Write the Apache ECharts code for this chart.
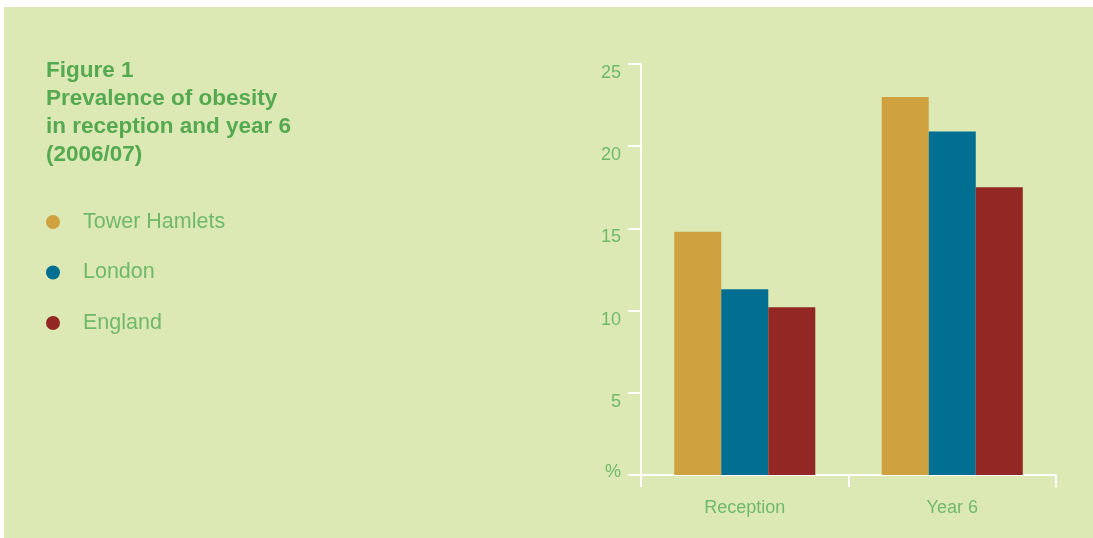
<!DOCTYPE html>
<html>
<head>
<meta charset="utf-8">
<script src="https://cdn.jsdelivr.net/npm/echarts@6/dist/echarts.min.js"></script>
<style>
  html, body { margin: 0; padding: 0; background: #ffffff; }
  #chart { width: 1093px; height: 538px; }
</style>
</head>
<body>
<div id="chart"></div>
<script>
const categories = ['Reception', 'Year 6'];
const seriesNames = ['Tower Hamlets', 'London', 'England'];
const towerHamlets = [14.8, 23.0];
const london = [11.3, 20.9];
const england = [10.2, 17.5];
const yTicks = [0, 5, 10, 15, 20, 25];
const yNumberLabels = [5, 10, 15, 20, 25];
const yUnitLabel = '%';
const titleLines = ['Figure 1', 'Prevalence of obesity', 'in reception and year 6', '(2006/07)'];

const colors = ['#cfa23f', '#006f91', '#922724'];
const bg = '#dde9b4';
const titleGreen = '#55a950';
const labelGreen = '#70b96b';
const font = 'Liberation Sans, Arial, sans-serif';

const chart = echarts.init(document.getElementById('chart'), null, { renderer: 'canvas' });
const values = [towerHamlets, london, england];

const yMin = yTicks[0];
const yMax = yTicks[yTicks.length - 1];

chart.setOption({
  backgroundColor: '#ffffff',
  animation: false,
  color: colors,
  graphic: [{
    type: 'rect',
    z: -10,
    silent: true,
    shape: { x: 4, y: 7, width: 1089, height: 531 },
    style: { fill: bg }
  }],
  title: {
    text: titleLines.join('\n'),
    left: 46,
    top: 57,
    padding: 0,
    textStyle: {
      fontFamily: font,
      fontWeight: 'bold',
      fontSize: 22.5,
      lineHeight: 28,
      color: titleGreen
    }
  },
  legend: {
    orient: 'vertical',
    left: 46,
    top: 211,
    padding: 0,
    icon: 'circle',
    itemWidth: 14,
    itemHeight: 14,
    itemGap: 28.5,
    data: seriesNames,
    textStyle: {
      fontFamily: font,
      fontSize: 21.5,
      lineHeight: 21,
      color: labelGreen,
      padding: [0, 0, 0, 18]
    }
  },
  grid: {
    left: 641,
    right: 37,
    top: 64,
    bottom: 63,
    containLabel: false
  },
  xAxis: {
    type: 'category',
    data: categories,
    axisLine: { show: true, lineStyle: { color: '#ffffff', width: 2 } },
    axisTick: { show: true, length: 12, lineStyle: { color: '#ffffff', width: 2 } },
    axisLabel: {
      margin: 24,
      fontFamily: font,
      fontSize: 18,
      color: labelGreen
    },
    splitLine: { show: false }
  },
  yAxis: [{
    type: 'value',
    min: yMin,
    max: yMax,
    interval: 5,
    axisLine: { show: true, lineStyle: { color: '#ffffff', width: 2 } },
    axisTick: { show: true, length: 13, lineStyle: { color: '#ffffff', width: 2 } },
    axisLabel: {
      customValues: yNumberLabels,
      margin: 20,
      verticalAlign: 'top',
      fontFamily: font,
      fontSize: 18,
      color: labelGreen
    },
    splitLine: { show: false }
  }, {
    type: 'value',
    position: 'left',
    offset: 0,
    min: yMin,
    max: yMax,
    interval: 5,
    axisLine: { show: false },
    axisTick: { show: false },
    axisLabel: {
      customValues: [yMin],
      margin: 20,
      verticalAlign: 'bottom',
      fontFamily: font,
      fontSize: 18,
      color: labelGreen,
      formatter: () => yUnitLabel,
      padding: [0, 0, -6, 0]
    },
    splitLine: { show: false }
  }],
  series: seriesNames.map((name, i) => ({
    name: name,
    type: 'bar',
    yAxisIndex: 0,
    data: values[i],
    barGap: '0%',
    barCategoryGap: '32%',
    itemStyle: { color: colors[i] }
  }))
});
</script>
</body>
</html>
